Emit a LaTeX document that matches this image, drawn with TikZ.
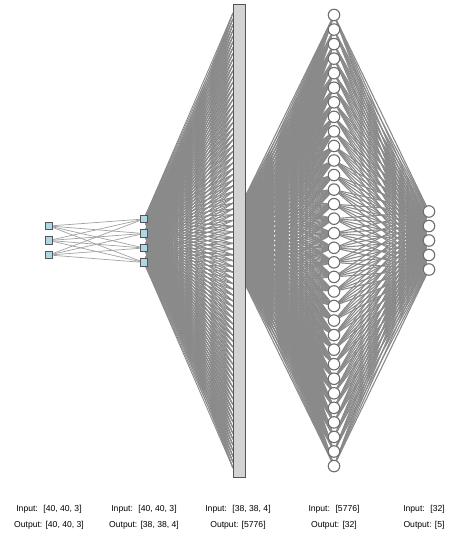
\documentclass[tikz,border=0pt]{standalone}
\usepackage{fontspec}
\setmainfont{Liberation Sans}
\usetikzlibrary{positioning,backgrounds}
\definecolor{edge}{HTML}{8A8A8A}
\definecolor{unitfill}{HTML}{ADD8E6}
\definecolor{unitline}{HTML}{555555}
\definecolor{flatfill}{HTML}{D3D3D3}
\definecolor{ringline}{HTML}{6E6E6E}

\begin{document}
\begin{tikzpicture}[x=1pt,y=-1pt,font=\fontsize{8.6}{10}\selectfont,
    unit/.style={draw=unitline,fill=unitfill,minimum size=7.5pt,inner sep=0pt,line width=1pt},
    neuron/.style={circle,draw=ringline,fill=white,minimum size=11.5pt,inner sep=0pt,line width=1.1pt},
    link/.style={draw=edge,line width=1.1pt},
    caption/.style={inner sep=0pt,anchor=base}]
  \useasboundingbox (0,0) rectangle (450,533);
  % layers
  \foreach \i in {0,1,2}{
    \node[unit] (a\i) at (49,226+\i*14.5) {};}
  \foreach \i in {0,...,3}{
    \node[unit] (b\i) at (144,219+\i*14.5) {};}
  \node[draw=unitline,fill=flatfill,minimum width=12pt,minimum height=473pt,
    inner sep=0pt,line width=1pt] (flat) at (239,240.5) {};
  \foreach \i in {0,...,31}{
    \node[neuron] (c\i) at (334,15+\i*14.55) {};}
  \foreach \i in {0,...,4}{
    \node[neuron] (d\i) at (429,211.5+\i*14.5) {};}
  % points on the flat layer
  \foreach \k in {0,...,79}{
    \coordinate (fw\k) at (233,13+\k*5.76);}
  \foreach \k in {0,...,12}{
    \coordinate (fe\k) at (245,197+\k*7.25);}
  % connections
  \begin{scope}[on background layer]
    \foreach \i in {0,1,2}{
      \foreach \j in {0,...,3}{
        \draw[link,line width=0.7pt,draw=edge!80] (a\i) -- (b\j);}}
    \foreach \j in {0,...,3}{
      \foreach \k in {0,...,79}{
        \draw[link,line width=0.9pt] (b\j) -- (fw\k);}}
    \foreach \k in {0,...,12}{
      \foreach \i in {0,...,31}{
        \draw[link] (fe\k) -- (c\i);}}
    \foreach \i in {0,...,31}{
      \foreach \j in {0,...,4}{
        \draw[link] (c\i) -- (d\j);}}
  \end{scope}
  % shapes
  \foreach \x/\n/\p/\q in {49/1/{[40, 40, 3]}/{[40, 40, 3]},144/2/{[40, 40, 3]}/{[38, 38, 4]},
      238/3/{[38, 38, 4]}/{[5776]},334/4/{[5776]}/{[32]},424/5/{[32]}/{[5]}}{
    \node[caption] (in\n) at (\x,511) {Input:~ \p};
    \node[caption] (out\n) at (\x,527) {Output: \q};}
\end{tikzpicture}
\end{document}
